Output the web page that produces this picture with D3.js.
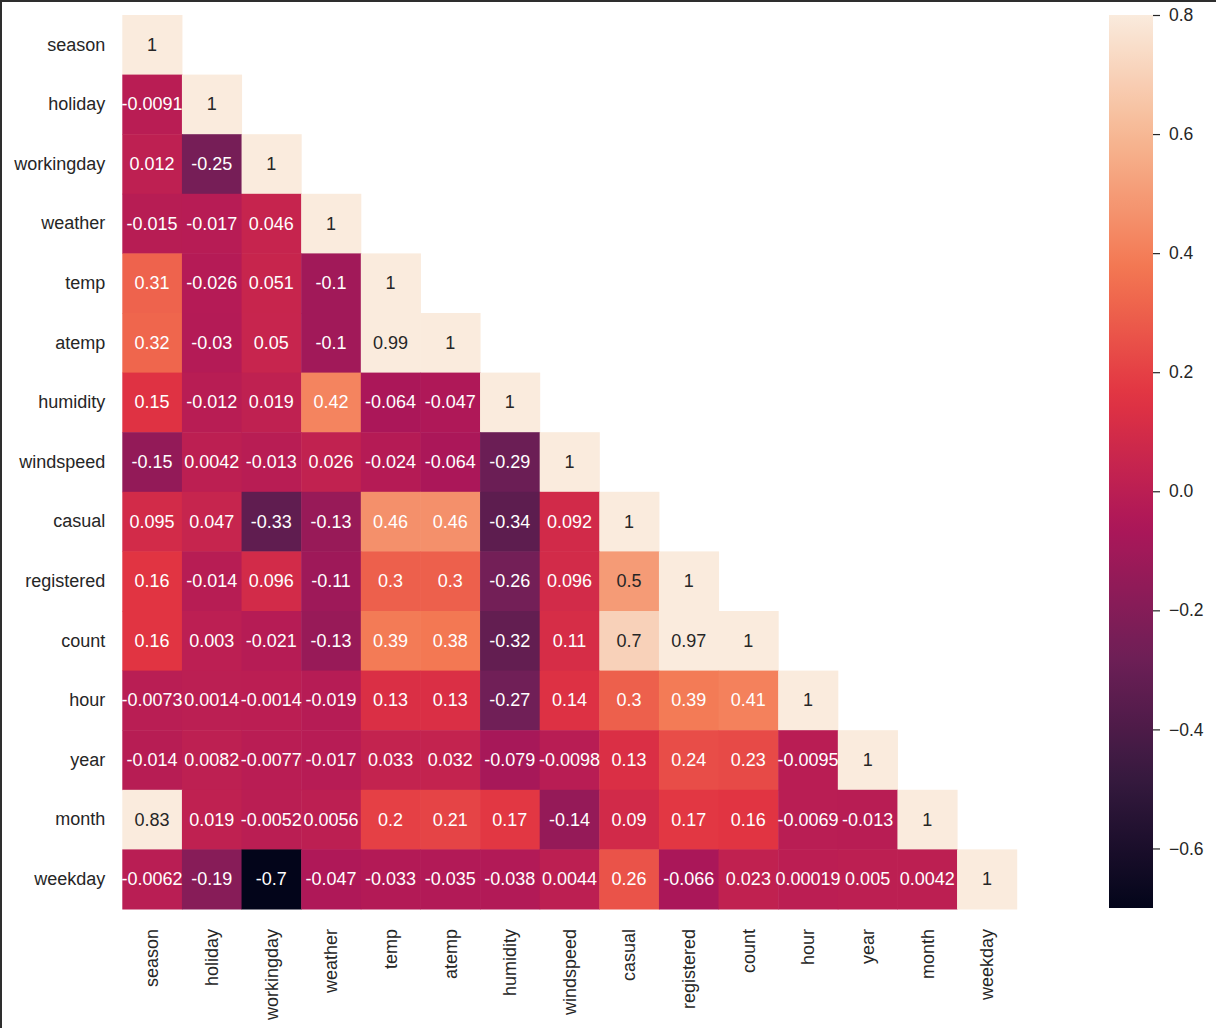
<!DOCTYPE html>
<html>
<head>
<meta charset="utf-8">
<script src="https://cdn.jsdelivr.net/npm/d3@7"></script>
<style>
  html, body { margin: 0; padding: 0; background: #ffffff; }
  svg { display: block; }
  text { font-family: "Liberation Sans", Arial, sans-serif; }
</style>
</head>
<body>
<svg id="chart" width="1216" height="1028"></svg>
<script>
// ---- data ----
const variables = ["season","holiday","workingday","weather","temp","atemp","humidity","windspeed","casual","registered","count","hour","year","month","weekday"];
// lower-triangular correlation rows (row i has i+1 values)
const corrRows = [
  [1],
  [-0.0091, 1],
  [0.012, -0.25, 1],
  [-0.015, -0.017, 0.046, 1],
  [0.31, -0.026, 0.051, -0.1, 1],
  [0.32, -0.03, 0.05, -0.1, 0.99, 1],
  [0.15, -0.012, 0.019, 0.42, -0.064, -0.047, 1],
  [-0.15, 0.0042, -0.013, 0.026, -0.024, -0.064, -0.29, 1],
  [0.095, 0.047, -0.33, -0.13, 0.46, 0.46, -0.34, 0.092, 1],
  [0.16, -0.014, 0.096, -0.11, 0.3, 0.3, -0.26, 0.096, 0.5, 1],
  [0.16, 0.003, -0.021, -0.13, 0.39, 0.38, -0.32, 0.11, 0.7, 0.97, 1],
  [-0.0073, 0.0014, -0.0014, -0.019, 0.13, 0.13, -0.27, 0.14, 0.3, 0.39, 0.41, 1],
  [-0.014, 0.0082, -0.0077, -0.017, 0.033, 0.032, -0.079, -0.0098, 0.13, 0.24, 0.23, -0.0095, 1],
  [0.83, 0.019, -0.0052, 0.0056, 0.2, 0.21, 0.17, -0.14, 0.09, 0.17, 0.16, -0.0069, -0.013, 1],
  [-0.0062, -0.19, -0.7, -0.047, -0.033, -0.035, -0.038, 0.0044, 0.26, -0.066, 0.023, 0.00019, 0.005, 0.0042, 1]
];
const colorbarTicks = [0.8, 0.6, 0.4, 0.2, 0.0, -0.2, -0.4, -0.6];
const vmin = -0.7, vmax = 0.8;
// rocket colormap anchor colours
const rocketStops = ["#03051a","#35193e","#701f57","#ad1759","#e13342","#f37651","#f6b48f","#faebdd"];

// ---- drawing ----
const svg = d3.select("#chart");
const textColor = "#262626";
const fontSize = 18;
const cbFontSize = 17.5;

// frame lines (screenshot border)
svg.append("rect").attr("x",0).attr("y",0).attr("width",1216).attr("height",2).attr("fill","#2e2e2e");
svg.append("rect").attr("x",0).attr("y",0).attr("width",2).attr("height",1028).attr("fill","#2e2e2e");

const plotLeft = 122.3, plotRight = 1016.7, plotTop = 15, plotBottom = 909;
const x = d3.scaleBand().domain(variables).range([plotLeft, plotRight]).padding(0);
const y = d3.scaleBand().domain(variables).range([plotTop, plotBottom]).padding(0);

const rocket = d3.scaleLinear()
  .domain(rocketStops.map((_, i) => i / (rocketStops.length - 1)))
  .range(rocketStops)
  .interpolate(d3.interpolateRgb)
  .clamp(true);
const norm = d3.scaleLinear().domain([vmin, vmax]).range([0, 1]).clamp(true);
const color = v => rocket(norm(v));

function luminance(c) {
  const rgb = d3.rgb(c);
  const f = u => { u /= 255; return u <= 0.03928 ? u / 12.92 : Math.pow((u + 0.055) / 1.055, 2.4); };
  return 0.2126 * f(rgb.r) + 0.7152 * f(rgb.g) + 0.0722 * f(rgb.b);
}
const fmt = v => String(Number(v.toPrecision(2)));

const cells = [];
corrRows.forEach((row, i) => row.forEach((v, j) => cells.push({ r: variables[i], c: variables[j], v })));

const g = svg.append("g");
g.selectAll("rect.cell").data(cells).join("rect")
  .attr("class","cell")
  .attr("x", d => x(d.c))
  .attr("y", d => y(d.r))
  .attr("width", x.bandwidth() + 0.5)
  .attr("height", y.bandwidth() + 0.5)
  .attr("fill", d => color(d.v));

g.selectAll("text.annot").data(cells).join("text")
  .attr("class","annot")
  .attr("x", d => x(d.c) + x.bandwidth() / 2)
  .attr("y", d => y(d.r) + y.bandwidth() / 2)
  .attr("text-anchor","middle")
  .attr("dominant-baseline","central")
  .attr("font-size", fontSize)
  .attr("fill", d => luminance(color(d.v)) > 0.408 ? textColor : "#ffffff")
  .text(d => fmt(d.v));

// y axis labels
const yAxis = d3.axisLeft(y).tickSize(0).tickPadding(17);
const ya = svg.append("g").attr("transform", `translate(${plotLeft},0)`).call(yAxis);
ya.select(".domain").remove();
ya.selectAll("text").attr("font-size", fontSize).attr("fill", textColor).attr("font-family", "Liberation Sans, Arial, sans-serif");

// x axis labels (rotated)
const xAxis = d3.axisBottom(x).tickSize(0).tickPadding(0);
const xa = svg.append("g").attr("transform", `translate(0,${plotBottom})`).call(xAxis);
xa.select(".domain").remove();
xa.selectAll("text")
  .attr("font-size", fontSize).attr("fill", textColor).attr("font-family", "Liberation Sans, Arial, sans-serif")
  .attr("transform", "rotate(-90)")
  .attr("x", -20).attr("y", 0).attr("dy", "0.35em")
  .attr("text-anchor", "end");

// colorbar
const cbX = 1109, cbW = 44, cbTop = 15, cbBottom = 908;
const cbScale = d3.scaleLinear().domain([vmin, vmax]).range([cbBottom, cbTop]);
const defs = svg.append("defs");
const grad = defs.append("linearGradient").attr("id","cbgrad")
  .attr("x1","0").attr("y1","1").attr("x2","0").attr("y2","0");
d3.range(0, 1.0001, 0.02).forEach(t => {
  grad.append("stop").attr("offset", t).attr("stop-color", rocket(t));
});
svg.append("rect").attr("x", cbX).attr("y", cbTop).attr("width", cbW).attr("height", cbBottom - cbTop)
  .attr("fill","url(#cbgrad)");

const cbAxis = d3.axisRight(cbScale).tickValues(colorbarTicks).tickSize(7).tickPadding(9)
  .tickFormat(d => d3.format(".1f")(d).replace("-", "\u2212"));
const cba = svg.append("g").attr("transform", `translate(${cbX + cbW},0)`).call(cbAxis);
cba.select(".domain").remove();
cba.selectAll("line").attr("stroke", textColor).attr("stroke-width", 1.2);
cba.selectAll("text").attr("font-size", cbFontSize).attr("fill", textColor).attr("font-family", "Liberation Sans, Arial, sans-serif");
</script>
</body>
</html>
